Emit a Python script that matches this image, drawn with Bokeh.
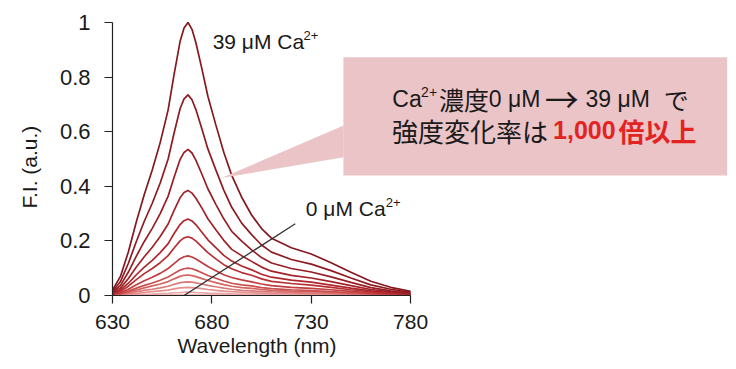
from bokeh.plotting import figure
from bokeh.models import Range1d, FixedTicker, Title
from bokeh.core.properties import value
from bokeh.embed import file_html
from bokeh.resources import INLINE

# ---------------- data ----------------
wavelength = [630, 634, 638, 642, 646, 650, 654, 658, 661, 664,
              666, 668, 670, 672, 675, 678, 682, 686, 690, 695,
              700, 705, 710, 720, 730, 740, 750, 760, 770, 780]

fi_39uM = [0.02, 0.07, 0.16, 0.27, 0.37, 0.46, 0.56, 0.68, 0.81, 0.93,
           0.98, 1.00, 0.975, 0.925, 0.83, 0.73, 0.625, 0.525, 0.44, 0.36,
           0.295, 0.245, 0.21, 0.175, 0.152, 0.12, 0.085, 0.052, 0.03, 0.015]
fi_c02 = [0.015, 0.051, 0.118, 0.198, 0.272, 0.338, 0.412, 0.50, 0.595, 0.684,
          0.72, 0.735, 0.717, 0.68, 0.61, 0.537, 0.46, 0.386, 0.323, 0.265,
          0.223, 0.185, 0.159, 0.132, 0.115, 0.091, 0.064, 0.039, 0.023, 0.012]
fi_c03 = [0.011, 0.037, 0.086, 0.144, 0.198, 0.246, 0.30, 0.364, 0.433, 0.498,
          0.524, 0.535, 0.522, 0.495, 0.444, 0.391, 0.334, 0.281, 0.235, 0.199,
          0.167, 0.139, 0.119, 0.099, 0.086, 0.068, 0.048, 0.029, 0.017, 0.0085]
fi_c04 = [0.008, 0.027, 0.062, 0.104, 0.142, 0.177, 0.216, 0.262, 0.312, 0.358,
          0.377, 0.385, 0.375, 0.356, 0.32, 0.281, 0.241, 0.202, 0.169, 0.146,
          0.125, 0.104, 0.089, 0.074, 0.064, 0.051, 0.036, 0.022, 0.013, 0.0065]
fi_c05 = [0.006, 0.02, 0.045, 0.076, 0.104, 0.129, 0.157, 0.19, 0.227, 0.26,
          0.274, 0.28, 0.273, 0.259, 0.232, 0.204, 0.175, 0.147, 0.126, 0.108,
          0.094, 0.078, 0.067, 0.056, 0.049, 0.038, 0.027, 0.017, 0.0096, 0.005]
fi_c06 = [0.005, 0.015, 0.034, 0.058, 0.08, 0.099, 0.12, 0.146, 0.174, 0.20,
          0.211, 0.215, 0.21, 0.199, 0.178, 0.157, 0.134, 0.113, 0.098, 0.084,
          0.074, 0.061, 0.052, 0.044, 0.038, 0.03, 0.021, 0.013, 0.0075, 0.004]
fi_c07 = [0.004, 0.01, 0.023, 0.039, 0.054, 0.067, 0.081, 0.099, 0.117, 0.135,
          0.142, 0.145, 0.141, 0.134, 0.12, 0.106, 0.091, 0.076, 0.066, 0.057,
          0.05, 0.042, 0.036, 0.03, 0.026, 0.021, 0.015, 0.009, 0.005, 0.003]
fi_c08 = [0.003, 0.007, 0.016, 0.027, 0.037, 0.046, 0.056, 0.068, 0.081, 0.093,
          0.098, 0.10, 0.098, 0.093, 0.083, 0.073, 0.063, 0.053, 0.045, 0.039,
          0.035, 0.029, 0.025, 0.021, 0.018, 0.014, 0.01, 0.006, 0.004, 0.002]
fi_c09 = [0.002, 0.005, 0.012, 0.02, 0.028, 0.035, 0.042, 0.051, 0.061, 0.07,
          0.074, 0.075, 0.073, 0.069, 0.062, 0.055, 0.047, 0.04, 0.034, 0.029,
          0.026, 0.022, 0.019, 0.016, 0.014, 0.011, 0.008, 0.005, 0.003, 0.002]
fi_c10 = [0.002, 0.004, 0.008, 0.014, 0.019, 0.023, 0.028, 0.034, 0.041, 0.047,
          0.049, 0.05, 0.049, 0.046, 0.042, 0.037, 0.032, 0.027, 0.023, 0.019,
          0.017, 0.015, 0.013, 0.011, 0.009, 0.007, 0.005, 0.003, 0.002, 0.001]
fi_c11 = [0.001, 0.002, 0.005, 0.008, 0.011, 0.014, 0.017, 0.02, 0.024, 0.028,
          0.029, 0.03, 0.029, 0.028, 0.025, 0.022, 0.019, 0.016, 0.014, 0.012,
          0.01, 0.009, 0.008, 0.007, 0.006, 0.004, 0.003, 0.002, 0.001, 0.001]
fi_c12 = [0.001, 0.001, 0.002, 0.003, 0.004, 0.005, 0.007, 0.008, 0.01, 0.011,
          0.012, 0.012, 0.012, 0.011, 0.01, 0.009, 0.008, 0.007, 0.006, 0.005,
          0.004, 0.004, 0.003, 0.003, 0.002, 0.002, 0.001, 0.001, 0.001, 0.001]
fi_0uM = [0.001, 0.001, 0.001, 0.001, 0.001, 0.002, 0.002, 0.002, 0.003, 0.003,
          0.003, 0.003, 0.003, 0.003, 0.003, 0.002, 0.002, 0.002, 0.002, 0.002,
          0.002, 0.001, 0.001, 0.001, 0.001, 0.001, 0.001, 0.001, 0.001, 0.001]

series = [fi_39uM, fi_c02, fi_c03, fi_c04, fi_c05, fi_c06, fi_c07,
          fi_c08, fi_c09, fi_c10, fi_c11, fi_c12, fi_0uM]
series_colors = ["#86181f", "#8f1b22", "#981e25", "#a32228", "#ad272c", "#b72f33", "#c13d3f",
                 "#ca504f", "#d36563", "#dc7b79", "#e39190", "#e9a7a6", "#eebcbb"]

x_ticks = [630, 680, 730, 780]
x_tick_labels = ["630", "680", "730", "780"]
y_ticks = [0, 0.2, 0.4, 0.6, 0.8, 1.0]
y_tick_labels = ["0", "0.2", "0.4", "0.6", "0.8", "1"]

LATIN = "Liberation Sans"
CJK = "Noto Sans CJK JP"

# ---------------- figure ----------------
p = figure(width=728, height=361, output_backend="svg", toolbar_location=None,
           x_range=Range1d(630, 939.5), y_range=Range1d(0, 283 / 273),
           min_border_left=110, min_border_right=1, min_border_top=12, min_border_bottom=66)
p.outline_line_color = None
p.grid.visible = False
p.background_fill_color = "white"
p.border_fill_color = "white"

for ax in (p.xaxis[0], p.yaxis[0]):
    ax.axis_line_color = "#222222"
    ax.axis_line_width = 1.2
    ax.major_tick_line_color = "#222222"
    ax.major_tick_line_width = 1.2
    ax.major_tick_in = 0
    ax.major_tick_out = 8
    ax.minor_tick_line_color = None
    ax.major_label_text_font = LATIN
    ax.major_label_text_color = "#1a1a1a"

p.xaxis.bounds = (630, 780)
p.xaxis.ticker = FixedTicker(ticks=x_ticks)
p.xaxis.major_label_overrides = dict(zip(x_ticks, x_tick_labels))
p.xaxis.major_label_text_font_size = "21px"
p.xaxis.major_label_standoff = 11

p.yaxis.bounds = (0, 1)
p.yaxis.ticker = FixedTicker(ticks=y_ticks)
p.yaxis.major_label_overrides = dict(zip(y_ticks, y_tick_labels))
p.yaxis.major_label_text_font_size = "22px"
p.yaxis.major_label_standoff = 14

# axis titles, placed so they sit centred on the 630-780 / 0-1 spans
p.add_layout(Title(text="Wavelength  (nm)", align="left", offset=65, standoff=0,
                   text_font=LATIN, text_font_size="21px", text_font_style="normal",
                   text_color="#1a1a1a"), "below")
p.add_layout(Title(text="F.I. (a.u.)", align="left", offset=87, standoff=31,
                   text_font=LATIN, text_font_size="21px", text_font_style="normal",
                   text_color="#1a1a1a"), "left")

# curves: draw faintest first so the darker ones lie on top
for ys, col in reversed(list(zip(series, series_colors))):
    p.line(wavelength, ys, line_color=col, line_width=1.7)

# leader line for the 0 uM label
p.line([666.0, 722.0], [0.0, 0.263], line_color="#333333", line_width=1.3)

# callout box with pointer
box_fill = "#ebc4c8"
p.quad(left=746.2, right=939.4, bottom=0.44, top=0.873, fill_color=box_fill, line_color=None)
p.patch([746.3, 684.7, 746.3], [0.623, 0.430, 0.506], fill_color=box_fill, line_color=None)


def add_text(x, y, s, size, font=LATIN, color="#1a1a1a", bold=False):
    p.text(x=[x], y=[y], text=[s], text_font=value(font), text_font_size=size,
           text_font_style="bold" if bold else "normal", text_color=color,
           text_align="left", text_baseline="middle")


# series labels
add_text(680.4, 0.932, "39 μM Ca", "21px")
add_text(726.1, 0.952, "2+", "13px")
add_text(727.3, 0.317, "0 μM Ca", "21px")
add_text(767.5, 0.340, "2+", "13px")

# callout text, line 1
add_text(770.8, 0.7216, "Ca", "23px")
add_text(785.3, 0.7436, "2+", "14px")
add_text(794.3, 0.7216, "濃度", "25px", font=CJK)
add_text(819.4, 0.7216, "0 μM", "23px")
add_text(847.5, 0.7216, "→", "34px", font=CJK)
add_text(868.0, 0.7216, "39 μM", "23px")
add_text(907.4, 0.7216, "で", "25px", font=CJK)

# callout text, line 2
red = "#e2231f"
add_text(770.7, 0.6044, "強度変化率は", "26px", font=CJK)
add_text(851.7, 0.6044, "1,000", "25px", color=red, bold=True)
add_text(884.6, 0.6044, "倍以上", "26px", font=CJK, color=red, bold=True)

open("out.html", "w").write(file_html(p, INLINE))
